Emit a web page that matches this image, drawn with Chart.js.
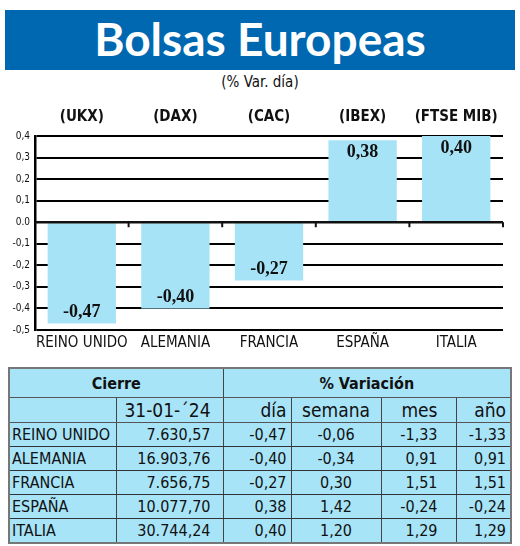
<!DOCTYPE html>
<html>
<head>
<meta charset="utf-8">
<script src="https://cdn.jsdelivr.net/npm/chart.js@4"></script>
<style>
  body { margin: 0; width: 520px; height: 546px; background: #fff; position: relative; overflow: hidden; font-family: "DejaVu Sans Condensed", "Liberation Sans Narrow", sans-serif; }
  #banner { position: absolute; left: 5px; top: 10px; width: 510px; height: 60px; background: #0067b1; color: #fff; text-align: center; font: bold 46px Lato, "Open Sans", sans-serif; line-height: 58px; }
  #sub { position: absolute; left: 0; width: 520px; top: 73px; text-align: center; font: 15px "DejaVu Sans Condensed", sans-serif; color: #111; }
  #wrap { position: absolute; left: 0; top: 100px; width: 520px; height: 254px; }
  table { position: absolute; left: 8px; top: 367px; width: 502px; table-layout: fixed; border-collapse: collapse; background: #a8e4f8; border: 2px solid #777; font-size: 16px; color: #111; }
  td { padding: 0 4px; height: 23px; border-bottom: 1px solid #333; text-align: right; white-space: nowrap; overflow: hidden; }
  tr.h1 td { height: 28px; font-weight: bold; text-align: center; border-bottom: 1px solid #555; }
  tr.h2 td { height: 24px; font-size: 19px; border-bottom: 1px solid #555; }
  td.v { border-left: 1px solid #444; }
  td.name { text-align: left; padding-left: 2px; }
</style>
</head>
<body>
<div id="banner">Bolsas Europeas</div>
<div id="sub">(% Var. día)</div>
<div id="wrap"><canvas id="c"></canvas></div>
<table id="t"></table>
<script>
const countries = ["REINO UNIDO", "ALEMANIA", "FRANCIA", "ESPAÑA", "ITALIA"];
const tickers = ["(UKX)", "(DAX)", "(CAC)", "(IBEX)", "(FTSE MIB)"];
const dayChange = [-0.47, -0.40, -0.27, 0.38, 0.40];
const closeValues = ["7.630,57", "16.903,76", "7.656,75", "10.077,70", "30.744,24"];
const weekChange = ["-0,06", "-0,34", "0,30", "1,42", "1,20"];
const monthChange = ["-1,33", "0,91", "1,51", "-0,24", "1,29"];
const yearChange = ["-1,33", "0,91", "1,51", "-0,24", "1,29"];
const yTickLabels = { "0.4": "0,4", "0.3": "0,3", "0.2": "0,2", "0.1": "0,1", "0": "0.0", "-0.1": "-0,1", "-0.2": "-0,2", "-0.3": "-0,3", "-0.4": "-0,4", "-0.5": "-0,5" };

const fmt = (v) => v.toFixed(2).replace(".", ",");
const narrow = '"DejaVu Sans Condensed", "Liberation Sans Narrow", sans-serif';

// table
const t = document.getElementById("t");
let html = '<colgroup><col style="width:107px"><col style="width:107px"><col style="width:68px"><col style="width:90px"><col style="width:75px"><col style="width:55px"></colgroup>';
html += '<tr class="h1"><td colspan="2">Cierre</td><td class="v" colspan="4">% Variación</td></tr>';
html += '<tr class="h2"><td></td><td class="v" style="padding-right:12px">31-01-´24</td><td class="v">día</td><td class="v" style="text-align:center">semana</td><td class="v" style="padding-right:18px">mes</td><td class="v">año</td></tr>';
countries.forEach((name, i) => {
  html += `<tr><td class="name">${name}</td><td class="v" style="padding-right:12px">${closeValues[i]}</td><td class="v">${fmt(dayChange[i])}</td><td class="v" style="text-align:center">${weekChange[i]}</td><td class="v" style="padding-right:18px">${monthChange[i]}</td><td class="v">${yearChange[i]}</td></tr>`;
});
t.innerHTML = html;

const decorations = {
  id: "decorations",
  afterDatasetsDraw(chart) {
    const { ctx, chartArea, scales } = chart;
    const y = scales.y;
    const meta = chart.getDatasetMeta(0);
    const zero = y.getPixelForValue(0);
    ctx.save();
    ctx.strokeStyle = "#111";
    ctx.lineWidth = 2.5;
    ctx.beginPath();
    ctx.moveTo(chartArea.left, zero);
    ctx.lineTo(chartArea.right, zero);
    ctx.stroke();
    ctx.lineWidth = 2;
    for (let i = 1; i <= countries.length; i++) {
      const px = chartArea.left + (chartArea.width / countries.length) * i;
      ctx.beginPath();
      ctx.moveTo(px, zero);
      ctx.lineTo(px, zero + 5);
      ctx.stroke();
    }
    ctx.fillStyle = "#111";
    ctx.font = 'bold 18px "Liberation Serif", serif';
    ctx.textAlign = "center";
    ctx.textBaseline = "middle";
    meta.data.forEach((bar, i) => {
      const v = dayChange[i];
      const ty = v < 0 ? bar.y - 11 : bar.y + 12;
      ctx.fillText(fmt(v), bar.x, ty);
    });
    ctx.font = "bold 15px " + narrow;
    meta.data.forEach((bar, i) => {
      ctx.fillText(tickers[i], bar.x, 17);
    });
    ctx.restore();
  },
};

new Chart(document.getElementById("c"), {
  type: "bar",
  plugins: [decorations],
  data: {
    labels: countries,
    datasets: [{
      data: dayChange,
      backgroundColor: "#a6e3f7",
      categoryPercentage: 0.73,
      barPercentage: 1,
    }],
  },
  options: {
    responsive: true,
    maintainAspectRatio: false,
    animation: false,
    layout: { padding: { top: 36, right: 17, bottom: 0, left: 0 } },
    plugins: { legend: { display: false }, tooltip: { enabled: false } },
    scales: {
      x: {
        grid: { display: false, drawTicks: false },
        border: { display: false },
        afterFit(s) { s.height = 24; },
        ticks: { color: "#111", padding: 4, maxRotation: 0, minRotation: 0, autoSkip: false, font: { family: narrow, size: 15 } },
      },
      y: {
        min: -0.5,
        max: 0.4,
        afterFit(s) { s.width = 35; },
        afterBuildTicks(s) {
          s.ticks = Object.keys(yTickLabels).map(Number).sort((a, b) => b - a).map((v) => ({ value: v }));
        },
        grid: { color: "#000", lineWidth: 2, drawTicks: false },
        border: { display: true, color: "#000", width: 2.5 },
        ticks: {
          color: "#111",
          padding: 5,
          font: { family: narrow, size: 10 },
          callback(value) { return yTickLabels[String(Math.round(value * 10) / 10)] ?? ""; },
        },
      },
    },
  },
});
</script>
</body>
</html>
